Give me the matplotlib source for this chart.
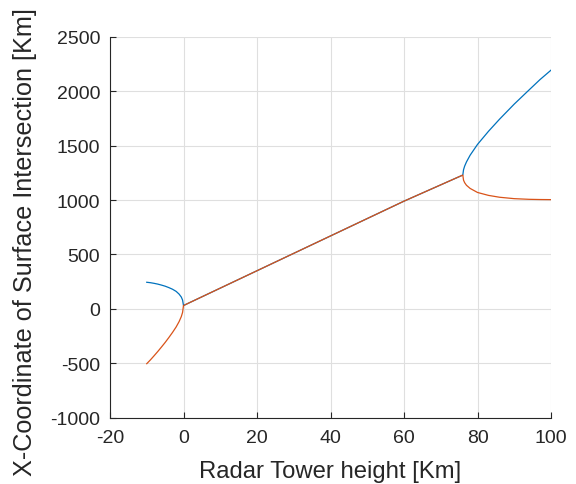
import matplotlib
matplotlib.use("Agg")
import matplotlib.pyplot as plt

# Tower height samples [Km] and the two surface-intersection roots [Km]
h_left = [-10, -9, -8, -7, -6, -5, -4, -3, -2, -1.2, -0.6, -0.25, 0]
root1_left = [244, 240, 234, 227, 218, 208, 195, 180, 160, 135, 108, 80, 30]
root2_left = [-505, -470, -432, -393, -352, -310, -265, -218, -167, -118, -72, -33, 30]

# Between the two branch points the roots share the same real part
h_mid = [0, 20, 40, 60, 76]
real_mid = [30, 350, 670, 990, 1230]

h_right = [76, 76.2, 76.5, 77, 78, 80, 83, 86, 90, 94, 97, 100]
root1_right = [1230, 1279, 1312, 1351, 1413, 1512, 1633, 1744, 1883, 2012, 2108, 2195]
root2_right = [1230, 1183, 1160, 1136, 1107, 1070, 1043, 1026, 1013, 1007, 1005, 1004]

xticks = [-20, 0, 20, 40, 60, 80, 100]
yticks = [-1000, -500, 0, 500, 1000, 1500, 2000, 2500]

h_all = h_left + h_mid[1:] + h_right[1:]
root1 = root1_left + real_mid[1:] + root1_right[1:]
root2 = root2_left + real_mid[1:] + root2_right[1:]

plt.rcParams['font.family'] = ['Liberation Sans', 'DejaVu Sans']
text_col = '#262626'

fig = plt.figure(figsize=(5.76, 4.85), dpi=100)
ax = fig.add_axes([110 / 576, 1 - 418.5 / 485, 441 / 576, 380.5 / 485])

ax.plot(h_all, root1, color='#0072BD', lw=0.9)
ax.plot(h_all, root2, color='#D95319', lw=0.9)

ax.set_xlim(-20, 100)
ax.set_ylim(-1000, 2500)
ax.set_xticks(xticks)
ax.set_yticks(yticks)
ax.set_xticklabels([str(v) for v in xticks])
ax.set_yticklabels([str(v) for v in yticks])

ax.grid(True, color='#dfdfdf', lw=0.8)
ax.set_axisbelow(True)
for side in ('top', 'right'):
    ax.spines[side].set_visible(False)
for side in ('left', 'bottom'):
    ax.spines[side].set_color(text_col)
    ax.spines[side].set_linewidth(0.8)

ax.tick_params(axis='both', direction='in', length=4, width=0.8,
               colors=text_col, labelsize=14)
ax.tick_params(axis='x', pad=8)
ax.tick_params(axis='y', pad=7)

ax.set_xlabel('Radar Tower height [Km]', fontsize=17.2, color=text_col, va='center')
ax.xaxis.set_label_coords(0.5, -0.14)
ax.set_ylabel('X-Coordinate of Surface Intersection [Km]', fontsize=18.2,
              color=text_col, va='center')
ax.yaxis.set_label_coords(-0.193, 0.463)

fig.savefig('out.png', dpi=100)
